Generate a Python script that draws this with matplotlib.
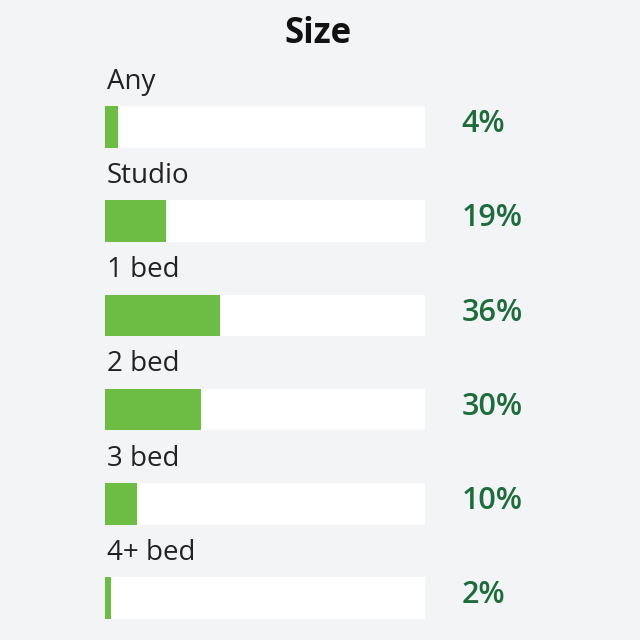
import matplotlib
matplotlib.use("Agg")
import matplotlib.pyplot as plt

categories = ["Any", "Studio", "1 bed", "2 bed", "3 bed", "4+ bed"]
values = [4, 19, 36, 30, 10, 2]
value_labels = ["4%", "19%", "36%", "30%", "10%", "2%"]
title = "Size"

BG = "#f3f4f6"
GREEN = "#6dbd45"
DARK_GREEN = "#1e6b3c"
TEXT = "#222222"
FONT = ["Open Sans", "DejaVu Sans"]

fig = plt.figure(figsize=(6.4, 6.4), dpi=100, facecolor=BG)
ax = fig.add_axes([105 / 640, 0, 320 / 640, 1])
ax.set_facecolor(BG)
ax.set_xlim(0, 100)
ax.set_ylim(5.446, -1.348)
ax.axis("off")

ys = list(range(len(categories)))
h = 0.44
ax.barh(ys, [100] * len(ys), height=h, color="white", zorder=1)
ax.barh(ys, values, height=h, color=GREEN, zorder=2)

for y, cat, lab in zip(ys, categories, value_labels):
    ax.text(0.5, y - 0.48, cat, ha="left", va="center", fontsize=20,
            color=TEXT, family=FONT, clip_on=False)
    ax.text(111.5, y - 0.03, lab, ha="left", va="center", fontsize=22,
            fontweight="semibold", color=DARK_GREEN, family=FONT, clip_on=False)

fig.text(318 / 640, 1 - 34 / 640, title, ha="center", va="center",
         fontsize=25, fontweight="bold", color="#111111", family=FONT)

fig.savefig("out.png", dpi=100, facecolor=BG)
